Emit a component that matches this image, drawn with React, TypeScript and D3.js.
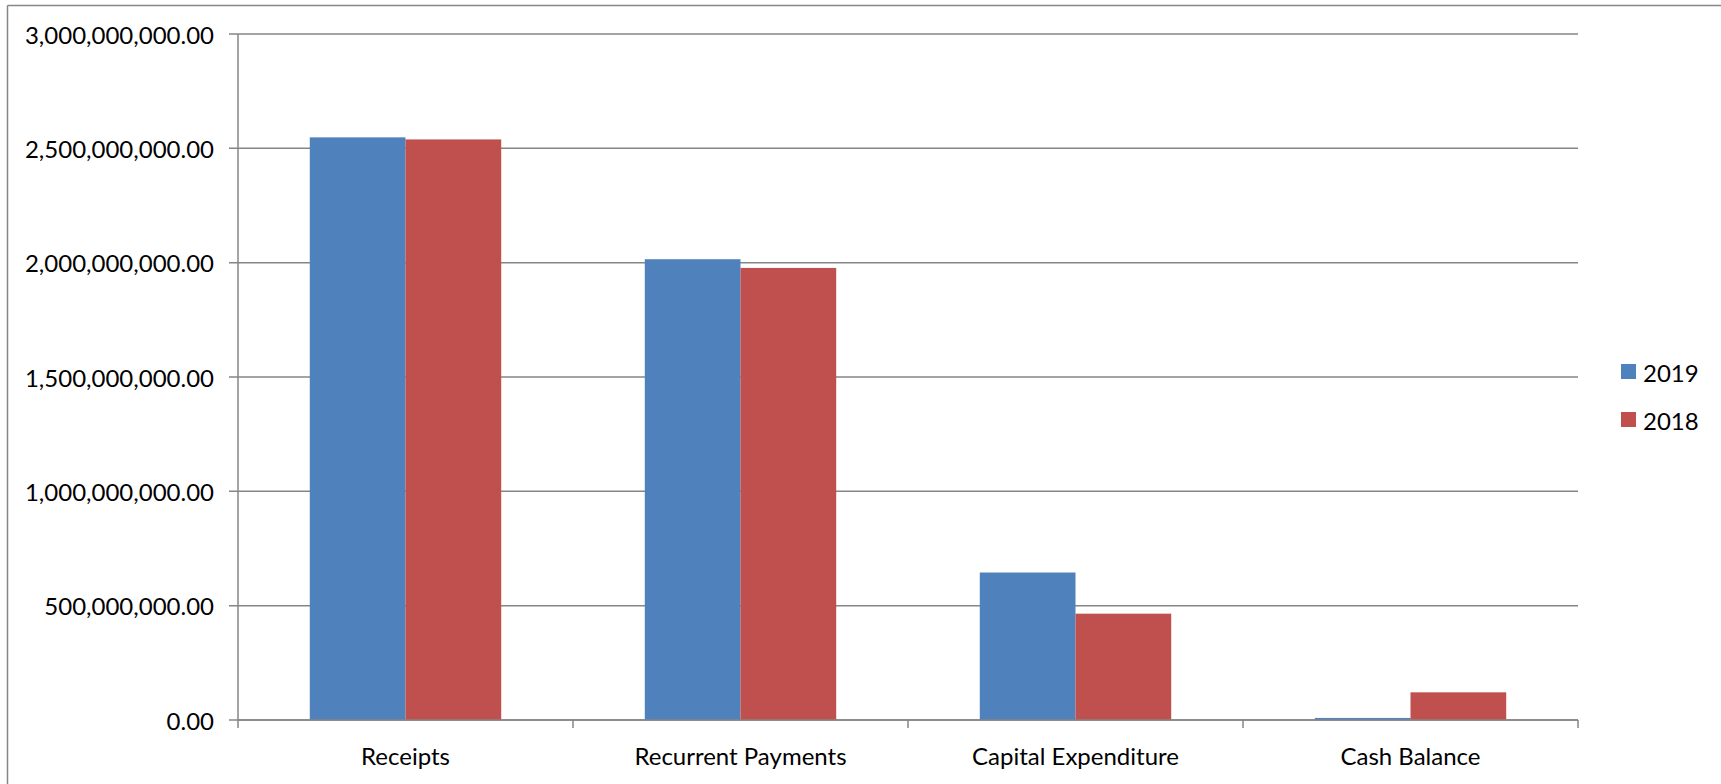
import React from "react";
import * as d3 from "d3";

const categories = ["Receipts", "Recurrent Payments", "Capital Expenditure", "Cash Balance"];
const seriesNames = ["2019", "2018"];
const values2019 = [2548e6, 2015e6, 645e6, 9e6];
const values2018 = [2539e6, 1977e6, 465e6, 121e6];
const yTicks = [0, 5e8, 1e9, 1.5e9, 2e9, 2.5e9, 3e9];
const colors = ["#4F81BD", "#C0504D"];

const W = 1721;
const H = 784;
const FONT = "Lato, 'Open Sans', sans-serif";

export default function App() {
  const left = 238;
  const right = 1578;
  const top = 34;
  const bottom = 720;

  const x = d3.scaleBand<string>().domain(categories).range([left, right]).padding(0);
  const xs = d3
    .scaleBand<string>()
    .domain(seriesNames)
    .range([0, x.bandwidth()])
    .paddingInner(0)
    .paddingOuter(0.75);
  const y = d3.scaleLinear().domain([0, 3e9]).range([bottom, top]);
  const fmt = d3.format(",.2f");
  const series = [values2019, values2018];
  const grid = "#868686";

  const catEdges = [...categories.map((c) => x(c) as number), right];

  return (
    <svg
      width={W}
      height={H}
      style={{ position: "absolute", left: 0, top: 0, background: "#fff" }}
      fontFamily={FONT}
    >
      <rect x={0} y={0} width={W} height={H} fill="#fff" />
      {/* chart border */}
      <line x1={7.5} y1={5.5} x2={W} y2={5.5} stroke={grid} strokeWidth={1.5} />
      <line x1={7.5} y1={5.5} x2={7.5} y2={H} stroke={grid} strokeWidth={1.5} />

      {/* gridlines + y labels */}
      {yTicks.map((t) => (
        <g key={t}>
          <line x1={left - 9} x2={right} y1={y(t)} y2={y(t)} stroke={grid} strokeWidth={1.5} />
          <text
            x={214}
            y={y(t)}
            textAnchor="end"
            dominantBaseline="central"
            fontSize={24}
            fill="#000"
          >
            {fmt(t)}
          </text>
        </g>
      ))}

      {/* bars */}
      {categories.map((c, i) => (
        <g key={c}>
          {series.map((s, j) => {
            const bx = (x(c) as number) + (xs(seriesNames[j]) as number);
            const by = y(s[i]);
            return (
              <rect
                key={j}
                x={bx}
                y={by}
                width={xs.bandwidth()}
                height={y(0) - by}
                fill={colors[j]}
              />
            );
          })}
        </g>
      ))}

      {/* axes */}
      <line x1={left} x2={left} y1={top} y2={bottom} stroke={grid} strokeWidth={1.5} />
      <line x1={left} x2={right} y1={bottom} y2={bottom} stroke={grid} strokeWidth={1.5} />
      {catEdges.map((e, i) => (
        <line key={i} x1={e} x2={e} y1={bottom} y2={bottom + 8} stroke={grid} strokeWidth={1.5} />
      ))}

      {/* category labels */}
      {categories.map((c) => (
        <text
          key={c}
          x={(x(c) as number) + x.bandwidth() / 2}
          y={755}
          textAnchor="middle"
          dominantBaseline="central"
          fontSize={24}
          fill="#000"
        >
          {c}
        </text>
      ))}

      {/* legend */}
      {seriesNames.map((n, j) => (
        <g key={n} transform={`translate(1621, ${364 + j * 48})`}>
          <rect x={0} y={0} width={15} height={15} fill={colors[j]} />
          <text x={22} y={8} dominantBaseline="central" fontSize={24} fill="#000">
            {n}
          </text>
        </g>
      ))}
    </svg>
  );
}
